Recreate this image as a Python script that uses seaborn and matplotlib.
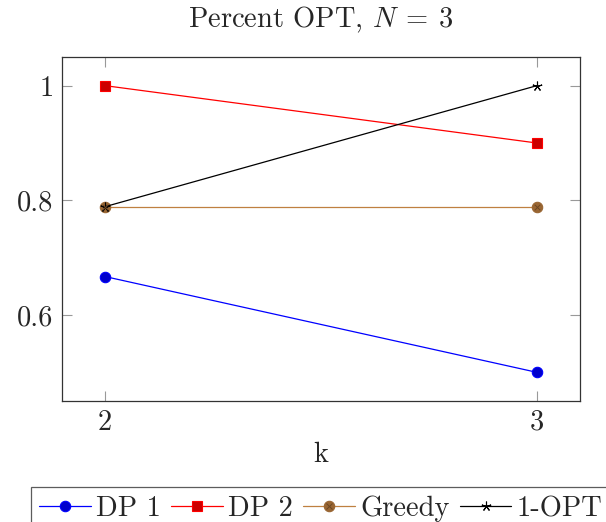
import matplotlib
matplotlib.use("Agg")
import matplotlib.pyplot as plt
from matplotlib.lines import Line2D
from matplotlib.legend_handler import HandlerTuple
import seaborn as sns
import pandas as pd

# ---- data ----
k_values = [2, 3]
dp1 = [0.667, 0.5]
dp2 = [1.0, 0.9]
greedy = [0.789, 0.789]
one_opt = [0.789, 1.0]
series_names = ["DP 1", "DP 2", "Greedy", "1-OPT"]
x_ticks = [2, 3]
y_ticks = [0.6, 0.8, 1.0]
y_tick_labels = ["0.6", "0.8", "1"]
title_text = r"Percent OPT, $N\:=\:3$"
x_label = "k"

sns.set_theme(style="white")
plt.rcParams["font.family"] = ["cmr10", "DejaVu Serif"]
plt.rcParams["mathtext.fontset"] = "cm"
plt.rcParams["axes.formatter.use_mathtext"] = True
plt.rcParams["axes.unicode_minus"] = False

FS = 20.5

fig = plt.figure(figsize=(6.06, 5.22), dpi=100)
W, H = 606, 522
ax = fig.add_axes([62 / W, 1 - 401 / H, (580 - 62) / W, (401 - 57) / H])

styles = {
    "DP 1": dict(color=(0, 0, 1), marker="o", mfc=(0, 0, 0.8), mec=(0, 0, 1), ms=7.5),
    "DP 2": dict(color=(1, 0, 0), marker="s", mfc=(0.8, 0, 0), mec=(1, 0, 0), ms=7.5),
    "Greedy": dict(color=(0.75, 0.5, 0.25), marker="o", mfc=(0.6, 0.4, 0.2), mec=(0.6, 0.4, 0.2), ms=7.5),
    "1-OPT": dict(color=(0, 0, 0), marker=(5, 2, 0), mfc=(0, 0, 0), mec=(0, 0, 0), ms=7),
}
values = {"DP 1": dp1, "DP 2": dp2, "Greedy": greedy, "1-OPT": one_opt}

handles = []
for name in series_names:
    st = styles[name]
    df = pd.DataFrame({"k": k_values, "v": values[name]})
    sns.lineplot(data=df, x="k", y="v", ax=ax, color=st["color"], marker=st["marker"],
                 markerfacecolor=st["mfc"], markeredgecolor=st["mec"], markersize=st["ms"],
                 markeredgewidth=0.8, linewidth=0.9, zorder=3)
    h = Line2D([], [], color=st["color"], marker=st["marker"], markerfacecolor=st["mfc"],
               markeredgecolor=st["mec"], markersize=st["ms"], markeredgewidth=0.8, linewidth=0.9)
    if name == "Greedy":
        sns.scatterplot(data=df, x="k", y="v", ax=ax, marker="x", color=(0.42, 0.28, 0.14),
                        s=16, linewidth=0.7, zorder=4)
        hx = Line2D([], [], linestyle="none", marker="x", color=(0.42, 0.28, 0.14),
                    markersize=4.0, markeredgewidth=0.7)
        h = (h, hx)
    handles.append(h)

ax.set_xlim(1.9, 3.1)
ax.set_ylim(0.45, 1.05)
ax.set_xticks(x_ticks)
ax.set_xticklabels([str(t) for t in x_ticks])
ax.set_yticks(y_ticks)
ax.set_yticklabels(y_tick_labels)
ax.tick_params(axis="both", which="both", direction="in", length=7, width=0.8,
               color="#999999", labelsize=FS, top=True, right=True, bottom=True, left=True,
               pad=6)
for sp in ax.spines.values():
    sp.set_color("#333333")
    sp.set_linewidth(0.9)
    sp.set_visible(True)

ax.set_xlabel(x_label, fontsize=FS, labelpad=4)
ax.set_ylabel("")
ax.set_title(title_text, fontsize=FS, pad=21)

leg = fig.legend(handles, series_names, loc="upper center", ncol=4,
                 bbox_to_anchor=(321 / W, 1 - 487 / H), bbox_transform=fig.transFigure,
                 fontsize=FS, frameon=True, fancybox=False, borderaxespad=0,
                 handlelength=1.8, handletextpad=0.2, columnspacing=0.36,
                 borderpad=0.3,
                 handler_map={tuple: HandlerTuple(ndivide=1, pad=0)})
leg.get_frame().set_edgecolor("#333333")
leg.get_frame().set_linewidth(0.9)

fig.savefig("out.png", dpi=100)
